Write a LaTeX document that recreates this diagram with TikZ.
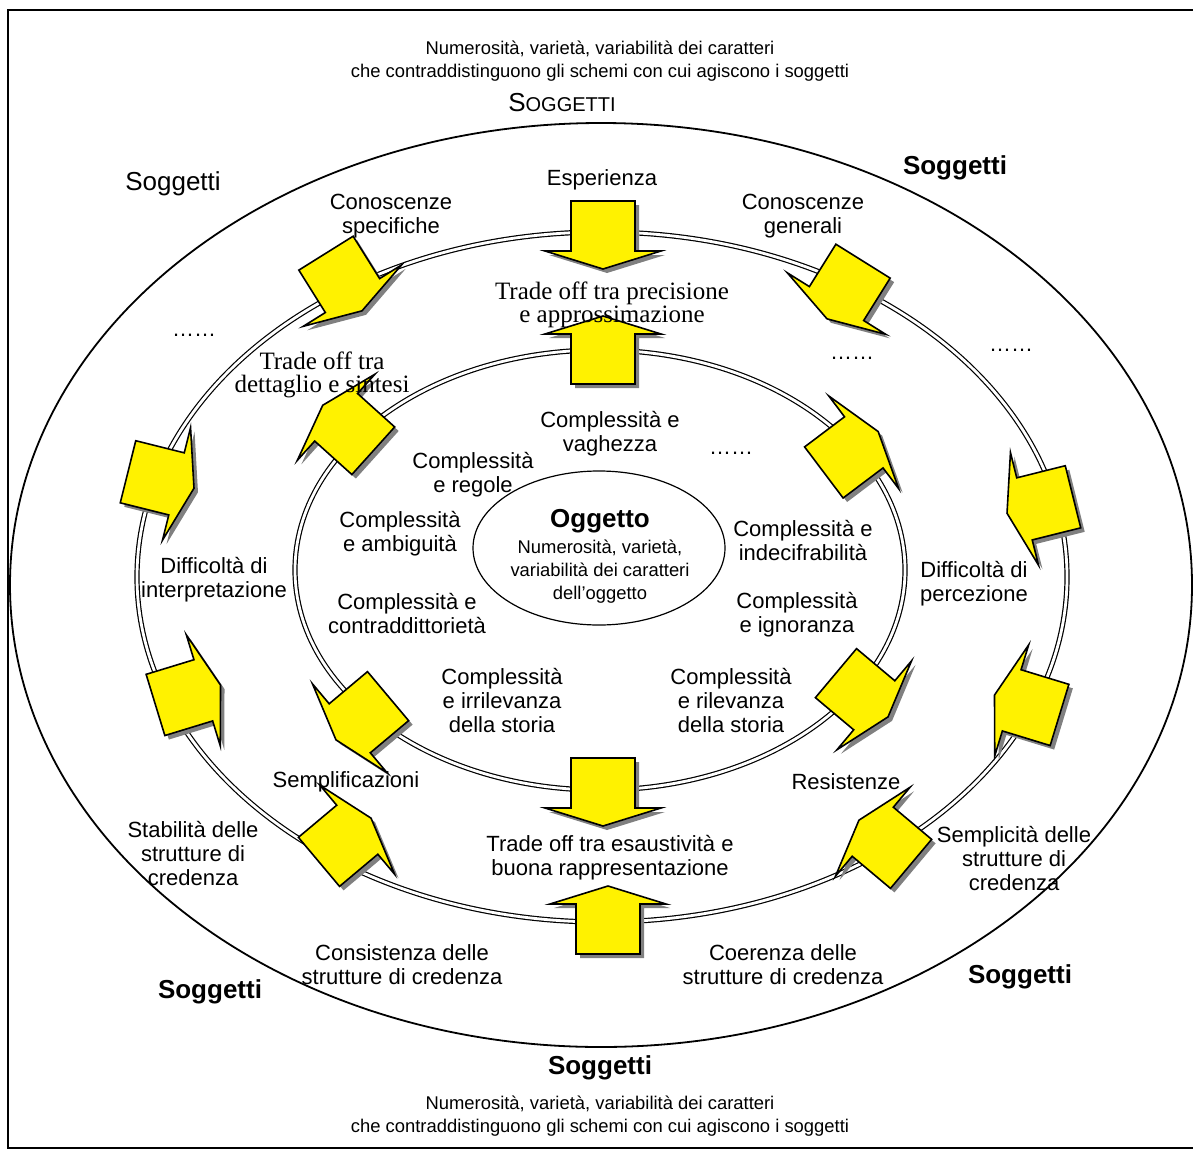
\documentclass[tikz,border=0pt]{standalone}
\usepackage{fontspec}
\setmainfont{Liberation Sans}
\newfontfamily\timesfont{Liberation Serif}
\usetikzlibrary{positioning}

% yellow block arrow with its shadow: x, y, direction
\newcommand{\blockarrow}[3]{%
  \fill[shade, shift={(#1+4,#2+4)}, rotate=#3] (-34,-32) -- (16,-32) -- (16,-58) -- (34,0) -- (16,58) -- (16,32) -- (-34,32) -- cycle;
  \draw[yarrow, shift={(#1,#2)}, rotate=#3] (-34,-32) -- (16,-32) -- (16,-58) -- (34,0) -- (16,58) -- (16,32) -- (-34,32) -- cycle;
}

\begin{document}
\begin{tikzpicture}[
    x=0.5pt, y=-0.5pt,
    lbl/.style={align=center, inner sep=0pt, font=\fontsize{11}{12}\selectfont},
    note/.style={align=center, inner sep=0pt, font=\fontsize{9.2}{11.5}\selectfont},
    subj/.style={inner sep=0pt, font=\fontsize{13}{15}\selectfont\bfseries},
    serifnote/.style={align=center, inner sep=0pt, font=\timesfont\fontsize{12.5}{11.5}\selectfont},
    ring/.style={line width=0.6pt, double=white, double distance=1.4pt},
    yarrow/.style={fill=yellow, draw=black, line width=0.8pt, line join=miter},
    shade/.style={fill=black!50}
]
\useasboundingbox (0,0) rectangle (1193,1151);

% Frame and rings
\draw[line width=0.8pt] (8,10) rectangle (1230,1148);
\draw[line width=0.9pt] (601,585) ellipse [x radius=591, y radius=462];
\draw[ring] (602,577) ellipse [x radius=465, y radius=345];
\draw[ring] (600,570) ellipse [x radius=305, y radius=220];
\draw[line width=0.6pt] (599,548) ellipse [x radius=126, y radius=77];

% Arrows on the outer ring
\blockarrow{603}{235}{-90}
\blockarrow{344}{282}{-58}
\blockarrow{845}{290}{-122}
\blockarrow{161}{480}{-14}
\blockarrow{1040}{505}{194}
\blockarrow{188}{695}{17}
\blockarrow{1027}{705}{163}
\blockarrow{345}{840}{40}
\blockarrow{885}{842}{140}
\blockarrow{608}{920}{90}

% Arrows on the inner ring
\blockarrow{603}{350}{90}
\blockarrow{348}{428}{138}
\blockarrow{851}{452}{37}
\blockarrow{362}{718}{-140}
\blockarrow{862}{695}{-40}
\blockarrow{603}{792}{-90}

% Nodes
\node (topnote) [note] at (600,61) {Numerosità, varietà, variabilità dei caratteri\\che contraddistinguono gli schemi con cui agiscono i soggetti};
\node (subjtop) [inner sep=0pt, font=\fontsize{13}{15}\selectfont] at (562,103) {S{\fontsize{10}{12}\selectfont OGGETTI}};
\node (subjnw) [inner sep=0pt, font=\fontsize{13}{15}\selectfont] at (173,184) {Soggetti};
\node (subjne) [subj] at (955,168) {Soggetti};
\node (subjsw) [subj] at (210,992) {Soggetti};
\node (subjse) [subj] at (1020,977) {Soggetti};
\node (subjbot) [subj] at (600,1068) {Soggetti};
\node (botnote) [note] at (600,1116) {Numerosità, varietà, variabilità dei caratteri\\che contraddistinguono gli schemi con cui agiscono i soggetti};

\node (esper) [lbl] at (602,180) {Esperienza};
\node (conspec) [lbl] at (391,216) {Conoscenze\\specifiche};
\node (congen) [lbl] at (803,216) {Conoscenze\\generali};
\node (precis) [serifnote] at (612,305) {Trade off tra precisione\\e approssimazione};
\node (dettag) [serifnote] at (322,375) {Trade off tra\\dettaglio e sintesi};
\node (dotsnw) [lbl] at (194,335) {……};
\node (dotsne) [lbl] at (852,358) {……};
\node (dotse) [lbl] at (1011,350) {……};
\node (dotsin) [lbl] at (731,453) {……};

\node (vag) [lbl] at (610,434) {Complessità e\\vaghezza};
\node (reg) [lbl] at (473,475) {Complessità\\e regole};
\node (amb) [lbl] at (400,534) {Complessità\\e ambiguità};
\node (contr) [lbl] at (407,613) {Complessità e\\contraddittorietà};
\node (irril) [lbl] at (502,700) {Complessità\\e irrilevanza\\della storia};
\node (ril) [lbl] at (731,700) {Complessità\\e rilevanza\\della storia};
\node (indec) [lbl] at (803,540) {Complessità e\\indecifrabilità};
\node (ignor) [lbl] at (797,615) {Complessità\\e ignoranza};

\node (ogg) [subj] at (600,521) {Oggetto};
\node (oggdesc) [note, below=3pt of ogg] {Numerosità, varietà,\\variabilità dei caratteri\\dell’oggetto};

\node (interp) [lbl] at (214,580) {Difficoltà di\\interpretazione};
\node (percez) [lbl] at (974,584) {Difficoltà di\\percezione};
\node (sempl) [lbl] at (346,782) {Semplificazioni};
\node (resist) [lbl] at (846,782) {Resistenze};
\node (esaust) [lbl] at (610,858) {Trade off tra esaustività e\\buona rappresentazione};
\node (stab) [lbl] at (193,853) {Stabilità delle\\strutture di\\credenza};
\node (semplic) [lbl] at (1014,858) {Semplicità delle\\strutture di\\credenza};
\node (consist) [lbl] at (402,965) {Consistenza delle\\strutture di credenza};
\node (coer) [lbl] at (783,965) {Coerenza delle\\strutture di credenza};

\end{tikzpicture}
\end{document}
